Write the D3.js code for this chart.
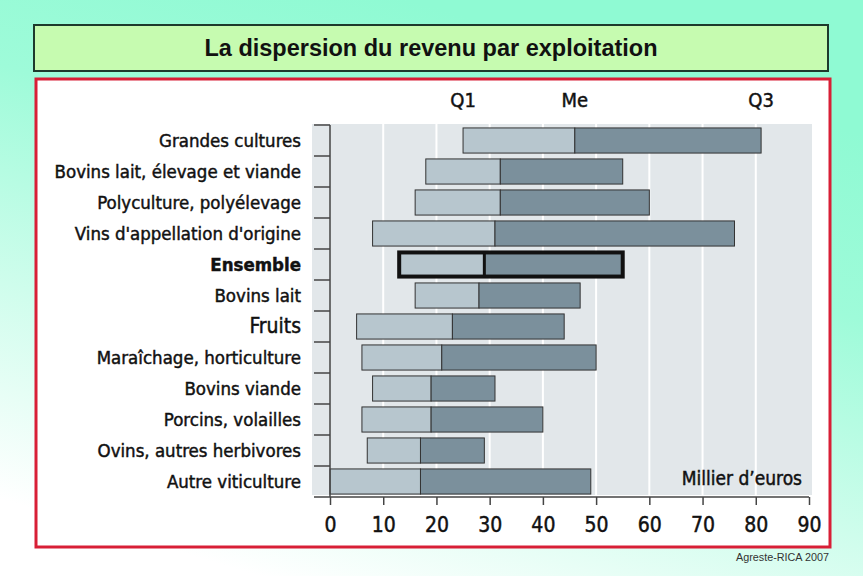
<!DOCTYPE html>
<html>
<head>
<meta charset="utf-8">
<script src="https://cdn.jsdelivr.net/npm/d3@7"></script>
<style>
  body { margin: 0; }
  .lab { font-family: "Liberation Sans Narrow", "DejaVu Sans Condensed", "Roboto Condensed", sans-serif; font-stretch: condensed; fill: #111; stroke: #111; stroke-width: 0.45px; }
</style>
</head>
<body>
<div id="chart"></div>
<script>
// data (milliers d'euros)
var categories = ["Grandes cultures", "Bovins lait, élevage et viande", "Polyculture, polyélevage",
  "Vins d'appellation d'origine", "Ensemble", "Bovins lait", "Fruits", "Maraîchage, horticulture",
  "Bovins viande", "Porcins, volailles", "Ovins, autres herbivores", "Autre viticulture"];
var q1 = [25, 18, 16, 8, 13, 16, 5, 6, 8, 6, 7, 0];
var median = [46, 32, 32, 31, 29, 28, 23, 21, 19, 19, 17, 17];
var q3 = [81, 55, 60, 76, 55, 47, 44, 50, 31, 40, 29, 49];
var xTicks = [0, 10, 20, 30, 40, 50, 60, 70, 80, 90];
var quartileNames = ["Q1", "Me", "Q3"];

var W = 863, H = 576;

var svg = d3.select("#chart").append("svg")
  .attr("width", W).attr("height", H);

// background gradient
var defs = svg.append("defs");
var grad = defs.append("linearGradient").attr("id", "bg")
  .attr("x1", "0.7").attr("y1", "0.1").attr("x2", "0.3").attr("y2", "1");
grad.append("stop").attr("offset", "0").attr("stop-color", "#8ffad3");
grad.append("stop").attr("offset", "0.3").attr("stop-color", "#9efbd9");
grad.append("stop").attr("offset", "1").attr("stop-color", "#ffffff");
svg.append("rect").attr("width", W).attr("height", H).attr("fill", "url(#bg)");

// title box
svg.append("rect")
  .attr("x", 34).attr("y", 25).attr("width", 794).attr("height", 46)
  .attr("fill", "#c6fbb0").attr("stroke", "#1d3a2c").attr("stroke-width", 2);
svg.append("text")
  .attr("x", 431).attr("y", 56)
  .attr("text-anchor", "middle")
  .style("font-family", "'Liberation Sans', Arial, sans-serif")
  .style("font-weight", "bold").style("font-size", "23.5px")
  .attr("fill", "#111")
  .text("La dispersion du revenu par exploitation");

// red frame
svg.append("rect")
  .attr("x", 36).attr("y", 79).attr("width", 794).attr("height", 468)
  .attr("fill", "#fff").attr("stroke", "#d81f36").attr("stroke-width", 3);

// scales
var x = d3.scaleLinear().domain([0, 90]).range([330, 809]);
var y = d3.scaleBand().domain(categories).range([125, 497])
  .paddingInner(0.19).paddingOuter(0.095);
var gap = (y.step() - y.bandwidth()) / 2;

// plot background + gridlines
svg.append("rect")
  .attr("x", 312).attr("y", 124)
  .attr("width", 500).attr("height", 371)
  .attr("fill", "#e2e7ea");
svg.selectAll(".grid").data(xTicks.slice(1, -1)).enter().append("line")
  .attr("class", "grid")
  .attr("x1", function(d) { return x(d); }).attr("x2", function(d) { return x(d); })
  .attr("y1", 124).attr("y2", 495)
  .attr("stroke", "#fff").attr("stroke-width", 2);

// rows
var rows = categories.map(function(c, i) {
  return { cat: c, q1: q1[i], me: median[i], q3: q3[i] };
});

var g = svg.selectAll(".row").data(rows).enter().append("g").attr("class", "row");

g.append("rect")
  .attr("x", function(d) { return x(d.q1); })
  .attr("y", function(d) { return y(d.cat); })
  .attr("width", function(d) { return x(d.me) - x(d.q1); })
  .attr("height", y.bandwidth())
  .attr("fill", "#b7c6ce").attr("stroke", "#333").attr("stroke-width", 1);

g.append("rect")
  .attr("x", function(d) { return x(d.me); })
  .attr("y", function(d) { return y(d.cat); })
  .attr("width", function(d) { return x(d.q3) - x(d.me); })
  .attr("height", y.bandwidth())
  .attr("fill", "#7b909c").attr("stroke", "#333").attr("stroke-width", 1);

// highlight "Ensemble"
var ens = rows.filter(function(d) { return d.cat == "Ensemble"; });
svg.selectAll(".ens").data(ens).enter().append("rect")
  .attr("class", "ens")
  .attr("x", function(d) { return x(d.q1); })
  .attr("y", function(d) { return y(d.cat) + 0.5; })
  .attr("width", function(d) { return x(d.q3) - x(d.q1); })
  .attr("height", y.bandwidth() - 1)
  .attr("fill", "none").attr("stroke", "#111").attr("stroke-width", 4);
svg.selectAll(".ensMe").data(ens).enter().append("line")
  .attr("class", "ensMe")
  .attr("x1", function(d) { return x(d.me); }).attr("x2", function(d) { return x(d.me); })
  .attr("y1", function(d) { return y(d.cat); })
  .attr("y2", function(d) { return y(d.cat) + y.bandwidth(); })
  .attr("stroke", "#111").attr("stroke-width", 3);

// category labels
g.append("text")
  .attr("class", "lab")
  .attr("x", 301)
  .attr("y", function(d) { return y(d.cat) + y.bandwidth() / 2 + 6; })
  .attr("text-anchor", "end")
  .style("font-size", function(d) { return d.cat == "Fruits" ? "21px" : "18.5px"; })
  .style("font-weight", function(d) { return d.cat == "Ensemble" ? "bold" : "normal"; })
  .text(function(d) { return d.cat; });

// left axis with ticks between rows
var bounds = categories.map(function(c) { return y(c) - gap; });
svg.append("line")
  .attr("x1", 330).attr("x2", 330)
  .attr("y1", y.range()[0]).attr("y2", y.range()[1])
  .attr("stroke", "#444").attr("stroke-width", 1.5);
svg.selectAll(".ytick").data(bounds).enter().append("line")
  .attr("class", "ytick")
  .attr("x1", 314).attr("x2", 330)
  .attr("y1", function(d) { return d; }).attr("y2", function(d) { return d; })
  .attr("stroke", "#444").attr("stroke-width", 1.5);

// bottom axis
var xAxis = d3.axisBottom(x).tickValues(xTicks).tickSize(8).tickPadding(12)
  .tickFormat(d3.format("d"));
var xg = svg.append("g")
  .attr("transform", "translate(0," + y.range()[1] + ")")
  .call(xAxis);
xg.select(".domain").remove();
xg.append("line")
  .attr("x1", 314).attr("x2", 809)
  .attr("stroke", "#444").attr("stroke-width", 1.5);
xg.selectAll(".tick line").attr("stroke", "#444").attr("stroke-width", 1.5);
xg.selectAll(".tick text")
  .attr("class", "lab")
  .style("font-size", "21px")
  .attr("fill", "#111");

// quartile headers above the first row
var first = rows[0];
svg.selectAll(".qname").data([first.q1, first.me, first.q3]).enter().append("text")
  .attr("class", "lab qname")
  .attr("x", function(d) { return x(d); })
  .attr("y", 107)
  .attr("text-anchor", "middle")
  .style("font-size", "20px")
  .text(function(d, i) { return quartileNames[i]; });

// unit
svg.append("text")
  .attr("class", "lab")
  .attr("x", 802).attr("y", 485)
  .attr("text-anchor", "end")
  .style("font-size", "19px")
  .text("Millier d’euros");

// source
svg.append("text")
  .attr("x", 829).attr("y", 561)
  .attr("text-anchor", "end")
  .style("font-family", "'Liberation Sans', Arial, sans-serif")
  .style("font-size", "10.8px")
  .attr("fill", "#333")
  .text("Agreste-RICA 2007");
</script>
</body>
</html>
